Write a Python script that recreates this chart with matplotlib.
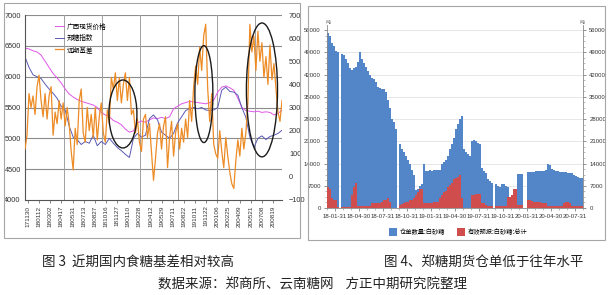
import matplotlib
matplotlib.use('Agg')
import matplotlib.pyplot as plt
import numpy as np
from matplotlib.patches import Ellipse, Rectangle, Patch

plt.rcParams['font.family'] = ['Noto Sans CJK SC', 'DejaVu Sans']
NARROW = ['Liberation Sans Narrow', 'Liberation Sans', 'DejaVu Sans']

# ---------------- Left chart data (图3) ----------------
date_labels = ['171130', '180112', '180302', '180417', '180531', '180713', '180827',
               '181016', '181127', '190110', '190228', '190412', '190529', '190711',
               '190822', '191011', '191122', '200106', '200225', '200409', '200521',
               '200708', '200819']

gx_spot = [6460, 6450, 6420, 6400, 6350, 6250, 6150, 6050, 5980, 5900, 5800, 5720,
           5670, 5630, 5600, 5580, 5560, 5540, 5500, 5420, 5380, 5350, 5290, 5260,
           5220, 5150, 5100, 5120, 5250, 5280, 5260, 5300, 5330, 5320, 5340, 5320,
           5350, 5480, 5520, 5560, 5580, 5600, 5590, 5580, 5570, 5560, 5580, 5620,
           5750, 5830, 5850, 5820, 5780, 5650, 5500, 5450, 5440, 5430, 5440, 5420,
           5430, 5420, 5380, 5400, 5460]

zc_index = [6320, 6150, 6030, 6000, 5970, 5880, 5800, 5730, 5650, 5520, 5460, 5200,
            5020, 4980, 4900, 4950, 4920, 5050, 4880, 4950, 4900, 5000, 4920, 4850,
            4800, 4740, 4690, 5000, 5080, 5020, 5050, 5320, 5380, 5300, 5100, 5050,
            5000, 5080, 5250, 5350, 5450, 5480, 5500, 5480, 5500, 5460, 5450, 5460,
            5500, 5780, 5830, 5760, 5750, 5700, 5500, 5340, 5020, 4850, 5000, 5040,
            4980, 5030, 5050, 5080, 5130]

basis = [120, 180, 360, 300, 350, 270, 390, 440, 330, 260, 360, 250, 350, 390, 180,
         280, 230, 330, 250, 320, 220, 300, 230, 110, 30, 210, 140, 330, 380, 190,
         150, 300, 200, 270, 170, 300, 160, 260, 320, 190, 150, 290, 230, 430, 380,
         450, 330, 430, 320, 400, 450, 330, 430, 270, 290, 190, 250, 150, 110, 250,
         270, 170, 230, 110, -15, 80, 190, 230, 120, 220, 260, 40, 170, 240, 90,
         190, 230, 120, 210, 150, 250, 170, 330, 240, 390, 480, 400, 560, 460, 610,
         660, 380, 240, 360, 140, 100, 80, 200, 110, 40, 170, 90, 20, -30, -50,
         70, 160, 90, 210, 120, 190, 320, 660, 540, 610, 460, 630, 500, 580, 430,
         520, 400, 570, 420, 490, 380, 280, 240, 330]

# ---------------- Right chart data (图4) ----------------
quarter_labels = ['18-01-31', '18-04-30', '18-07-31', '18-10-31', '19-01-31', '19-04-30',
                  '19-07-31', '19-10-31', '20-01-31', '20-04-30', '20-07-31']

# weekly values, 4 per month, Jan 2018 - Aug 2020
warrants = [55000, 54000, 52000, 51000,  49500, 49000, 0, 48500,
            48000, 47000, 45500, 44000,  43500, 44000, 44500, 46000,
            49000, 47000, 45500, 44500,  43000, 42000, 41000, 40500,
            39500, 38000, 37800, 37500,  37500, 36500, 34000, 31500,
            28000, 27000, 25000, 0,      20000, 18500, 17500, 16300,
            15000, 13800, 12000, 10500,  5700, 6000, 7000, 7500,
            14000, 11500, 11500, 12000,  11500, 11800, 12000, 12000,
            12000, 13800, 14500, 15000,  16500, 18500, 20000, 22000,
            24700, 26500, 28000, 29000,  18500, 17500, 17000, 16500,
            21000, 21500, 21000, 20500,  20000, 12500, 11500, 11000,
            9200, 8500, 8000, 0,         7500, 7000, 6500, 7500,
            7500, 7000, 6500, 0,         0, 0, 0, 10800,
            10800, 10800, 0, 0,          11300, 11300, 11400, 11400,
            11500, 11500, 11600, 11600,  11700, 11800, 13800, 13500,
            12300, 11800, 11600, 11500,  11400, 11300, 11300, 11200,
            11100, 11000, 11000, 10500,  10000, 9800, 9500, 9300]

forecast = [6500, 6000, 3000, 2500,  2500, 300, 0, 300,
            300, 300, 300, 300,      4000, 6500, 8000, 500,
            500, 500, 500, 500,      500, 500, 1500, 1500,
            1500, 1500, 1500, 1800,  2500, 2500, 3000, 2000,
            0, 0, 0, 0,              1000, 1200, 1500, 2000,
            2000, 2500, 2500, 3000,  4000, 5000, 6000, 6000,
            1500, 1500, 1500, 1500,  1500, 2000, 2000, 2000,
            3000, 4000, 5000, 5500,  6500, 7200, 8000, 9000,
            9300, 9800, 10300, 3000, 0, 0, 0, 0,
            4000, 4200, 4500, 4500,  4500, 1500, 1500, 1000,
            500, 500, 500, 0,        500, 500, 500, 500,
            500, 500, 3500, 3500,    4000, 6000, 6000, 1000,
            1000, 1000, 0, 0,        2500, 2500, 2200, 2000,
            2000, 1800, 1800, 1500,  1500, 1500, 500, 500,
            500, 500, 500, 500,      500, 500, 1500, 2000,
            2000, 1500, 500, 500,    500, 500, 500, 500]

W, H = 611, 295
fig = plt.figure(figsize=(W / 100, H / 100), dpi=100)


def fx(px):
    return px / W


def fy(py):
    return 1 - py / H


def box(x0, y0, x1, y1, color='#a6a6a6'):
    fig.patches.append(Rectangle((fx(x0), fy(y1)), fx(x1) - fx(x0), fy(y0) - fy(y1),
                                 transform=fig.transFigure, fill=False, ec=color, lw=0.8))


box(4, 3, 300, 238)
box(308, 6, 605, 240)

# ---------------- Left chart ----------------
ax1 = fig.add_axes([fx(25), fy(200), fx(282) - fx(25), fy(15) - fy(200)])
x_spot = np.linspace(0, 1, len(gx_spot))
x_idx = np.linspace(0, 1, len(zc_index))
x_basis = np.linspace(0, 1, len(basis))
ax1.set_xlim(0, 1)
ax1.set_ylim(4000, 7000)
ax1.set_yticks(np.arange(4000, 7001, 500))
for v in np.arange(4500, 7001, 500):
    ax1.axhline(v, color='#8c8c8c', lw=0.8, zorder=0)
for f in [0.152, 0.30, 0.447, 0.595, 0.747, 0.895]:
    ax1.axvline(f, color='#a0a0a0', lw=0.7, zorder=0)
l1, = ax1.plot(x_spot, gx_spot, color='#e056e8', lw=0.7, label='广西现货价格')
l2, = ax1.plot(x_idx, zc_index, color='#5a5ab4', lw=0.7, label='郑糖指数')
ax1.set_xticks(np.linspace(0.012, 0.965, len(date_labels)))
ax1.set_xticklabels(date_labels, rotation=90, fontsize=4.6, family=NARROW, color='#333333')
ax1.tick_params(axis='x', length=2, width=0.5, pad=2, color='#555555')
ax1.tick_params(axis='y', length=0, labelsize=5.3, pad=3, labelcolor='#333333')
for t in ax1.get_yticklabels():
    t.set_family(NARROW)
for s in ['top', 'right']:
    ax1.spines[s].set_visible(False)
for s in ['left', 'bottom']:
    ax1.spines[s].set_color('#555555')
    ax1.spines[s].set_linewidth(0.8)

ax1b = ax1.twinx()
ax1b.set_ylim(-100, 700)
ax1b.set_yticks(np.arange(-100, 701, 100))
l3, = ax1b.plot(x_basis, basis, color='#ed8b25', lw=0.9, label='远期基差')
ax1b.tick_params(axis='y', length=0, labelsize=5.3, pad=5, labelcolor='#333333')
for t in ax1b.get_yticklabels():
    t.set_family(NARROW)
for s in ['top', 'right', 'left', 'bottom']:
    ax1b.spines[s].set_visible(False)

for (cx, cy, w, h) in [(0.381, 272, 0.109, 294), (0.696, 358, 0.070, 419), (0.922, 376, 0.121, 579)]:
    ax1b.add_patch(Ellipse((cx, cy), w, h, fill=False, ec='#1a1a1a', lw=1.0, clip_on=False, zorder=5))

ax1b.legend(handles=[l1, l2, l3], loc='upper left', bbox_to_anchor=(0.10, 0.985), fontsize=4.8,
            frameon=False, handlelength=1.3, handletextpad=0.4, labelspacing=0.55, borderpad=0.2)

# ---------------- Right chart ----------------
ax2 = fig.add_axes([fx(327), fy(208), fx(583) - fx(327), fy(25) - fy(208)])
xb = np.arange(len(warrants)) * 0.25 + 0.125
ax2.bar(xb, warrants, width=0.23, color='#5286c8', edgecolor='none', zorder=2,
        label='仓单数量:白砂糖')
ax2.bar(xb, forecast, width=0.23, color='#cf4d4d', edgecolor='none', zorder=3,
        label='有效预报:白砂糖:总计')
ymax = 56000 * 183 / 178
ax2.set_ylim(0, ymax)
ax2.set_xlim(0, 32)
ax2.set_yticks(np.arange(0, 56001, 7000))
ax2.set_yticks(np.arange(0, 56001, 1750), minor=True)
ax2.yaxis.grid(True, color='#e3e3e3', lw=0.6, zorder=0)
ax2.set_axisbelow(True)
ax2.set_xticks(np.arange(1, 32, 3))
ax2.set_xticklabels(quarter_labels)
ax2.set_xticks(np.arange(0, 33, 1), minor=True)
ax2.tick_params(axis='both', which='major', labelsize=4.3, length=2.5, width=0.5, color='#666666',
                labelcolor='#333333', pad=2)
ax2.tick_params(axis='both', which='minor', length=1.3, width=0.4, color='#888888')
for t in ax2.get_xticklabels() + ax2.get_yticklabels():
    t.set_family(NARROW)
for s in ['top', 'right']:
    ax2.spines[s].set_visible(False)
for s in ['left', 'bottom']:
    ax2.spines[s].set_color('#888888')
    ax2.spines[s].set_linewidth(0.6)

ax2b = ax2.twinx()
ax2b.set_ylim(0, ymax)
ax2b.set_yticks(np.arange(0, 56001, 7000))
ax2b.set_yticks(np.arange(0, 56001, 1750), minor=True)
ax2b.tick_params(axis='y', which='major', labelsize=4.3, length=2.5, width=0.5, color='#666666',
                 labelcolor='#333333', pad=2)
ax2b.tick_params(axis='y', which='minor', length=1.3, width=0.4, color='#888888')
for t in ax2b.get_yticklabels():
    t.set_family(NARROW)
for s in ['top', 'left', 'bottom']:
    ax2b.spines[s].set_visible(False)
ax2b.spines['right'].set_color('#888888')
ax2b.spines['right'].set_linewidth(0.6)

fig.text(fx(328), fy(23), '吨', fontsize=3.5, color='#555555', ha='center', va='center')
fig.text(fx(582), fy(23), '吨', fontsize=3.5, color='#555555', ha='center', va='center')

handles = [Patch(facecolor='#5286c8', label='仓单数量:白砂糖'),
           Patch(facecolor='#cf4d4d', label='有效预报:白砂糖:总计')]
fig.legend(handles=handles, loc='center', bbox_to_anchor=(fx(458), fy(232)), ncol=2, fontsize=4.5,
           frameon=False, handlelength=1.4, handleheight=1.4, handletextpad=0.4, columnspacing=1.8)

# ---------------- Captions ----------------
fig.text(fx(138), fy(262), '图 3  近期国内食糖基差相对较高', fontsize=9.7, ha='center', va='center', color='#222222')
fig.text(fx(484), fy(262), '图 4、郑糖期货仓单低于往年水平', fontsize=9.7, ha='center', va='center', color='#222222')
fig.text(fx(312), fy(284), '数据来源：郑商所、云南糖网    方正中期研究院整理', fontsize=9.7, ha='center', va='center',
         color='#222222')

fig.savefig('out.png', dpi=100)
